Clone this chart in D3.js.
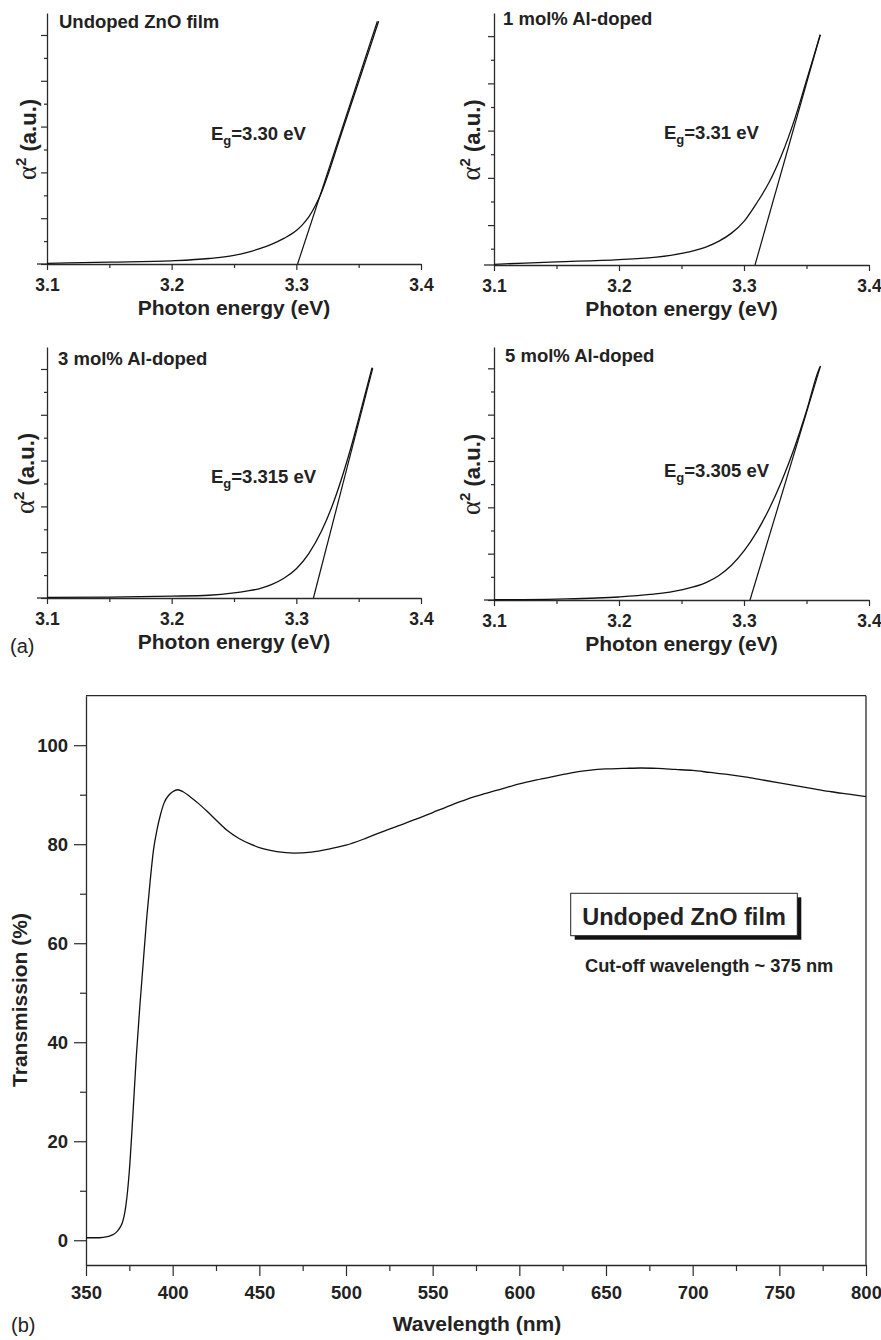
<!DOCTYPE html>
<html><head><meta charset="utf-8">
<script src="https://cdn.jsdelivr.net/npm/d3@7"></script>
<style>
body{margin:0;background:#fff;}
svg{display:block;}
text{font-family:"Liberation Sans",Arial,Helvetica,sans-serif;fill:#222;}
</style></head>
<body>
<svg id="c" width="881" height="1340"></svg>
<script>
// ---------- DATA ----------
// Panel (a): alpha^2 vs photon energy
const xTicksEnergy = [3.1, 3.2, 3.3, 3.4];
const xMinorEnergy = [3.15, 3.25, 3.35];

const undopedE = [3.10,3.15,3.20,3.23,3.25,3.26,3.27,3.28,3.29,3.30,3.305,3.31,3.315,3.32,3.325,3.33,3.335,3.34,3.35,3.36,3.366];
const undopedA = [0.015,0.04,0.07,0.12,0.19,0.25,0.33,0.43,0.56,0.73,0.86,1.03,1.26,1.55,1.92,2.33,2.75,3.16,3.98,4.80,5.30];
const undopedFitE = [3.301, 3.365];
const undopedFitA = [0, 5.30];

const al1E = [3.10,3.15,3.20,3.23,3.25,3.27,3.28,3.29,3.30,3.31,3.32,3.33,3.335,3.34,3.345,3.35,3.361];
const al1A = [0.17,0.22,0.27,0.32,0.40,0.54,0.66,0.83,1.08,1.46,1.90,2.48,2.82,3.20,3.62,4.06,5.03];
const al1FitE = [3.3088, 3.361];
const al1FitA = [0.155, 5.03];

const al3E = [3.10,3.15,3.20,3.23,3.25,3.26,3.27,3.28,3.29,3.30,3.31,3.32,3.33,3.34,3.345,3.35,3.36,3.3608];
const al3A = [0.015,0.02,0.04,0.06,0.11,0.15,0.20,0.29,0.43,0.64,0.97,1.45,2.10,2.93,3.40,3.91,4.95,5.03];
const al3FitE = [3.3137, 3.3613];
const al3FitA = [0, 5.02];

const al5E = [3.10,3.15,3.20,3.225,3.25,3.27,3.28,3.29,3.30,3.31,3.32,3.33,3.34,3.35,3.36,3.3612];
const al5A = [0.005,0.02,0.065,0.12,0.22,0.38,0.53,0.75,1.06,1.46,1.96,2.56,3.26,4.08,4.98,5.05];
const al5FitE = [3.3048, 3.361];
const al5FitA = [0, 5.03];

const panelTitles = ["Undoped ZnO film", "1 mol% Al-doped", "3 mol% Al-doped", "5 mol% Al-doped"];
const bandGaps = ["3.30", "3.31", "3.315", "3.305"];

// Panel (b): transmission spectrum
const wavelength = [350,355,360,363,366,368,370,371,372,373,374,375,377,379,381,383,385,387,389,391,393,395,398,400,403,406,410,415,420,425,431,438,445,452,460,470,480,490,500,510,520,530,540,550,560,570,580,590,600,610,620,630,640,650,660,670,680,690,700,710,720,730,740,750,760,770,780,790,800];
const transmission = [0.5,0.5,0.6,0.8,1.2,1.8,2.8,3.6,4.9,7,10,14,25,37,47,56,65,72.5,79,83,86,88.3,90,90.6,91,90.6,89.6,88.2,86.6,84.9,82.9,81.2,80,79.1,78.5,78.2,78.4,79,79.8,81,82.4,83.7,85,86.4,87.8,89.1,90.2,91.2,92.2,93,93.7,94.4,94.9,95.2,95.3,95.4,95.3,95.1,94.9,94.5,94.1,93.6,93,92.4,91.8,91.2,90.6,90.1,89.6];
const xTicksWl = [350,400,450,500,550,600,650,700,750,800];
const xMinorWl = [375,425,475,525,575,625,675,725,775];
const yTicksT = [0,20,40,60,80,100];
const yMinorT = [10,30,50,70,90];

// ---------- DRAWING ----------
const svg = d3.select("#c");
const AX = "#2a2a2a";

const panels = [
  {E: undopedE, A: undopedA, fE: undopedFitE, fA: undopedFitA, x0:47, x1:421, yTop:13, yBot:264, yMin:0, yMax:5.48, major:[0,1,2,3,4,5], minor:[0.5,1.5,2.5,3.5,4.5], tx:59, ty:28, ex:211, ey:140, lx:36},
  {E: al1E, A: al1A, fE: al1FitE, fA: al1FitA, x0:494, x1:869, yTop:13, yBot:265, yMin:0.155, yMax:5.49, major:[1,2,3,4,5], minor:[0.5,1.5,2.5,3.5,4.5], tx:503, ty:25, ex:664, ey:139, lx:480},
  {E: al3E, A: al3A, fE: al3FitE, fA: al3FitA, x0:47, x1:421, yTop:347, yBot:598, yMin:0, yMax:5.48, major:[0,1,2,3,4,5], minor:[0.5,1.5,2.5,3.5,4.5], tx:58, ty:365, ex:211, ey:483, lx:34},
  {E: al5E, A: al5A, fE: al5FitE, fA: al5FitA, x0:494, x1:869, yTop:347, yBot:600, yMin:0, yMax:5.46, major:[0,1,2,3,4,5], minor:[0.5,1.5,2.5,3.5,4.5], tx:505, ty:362, ex:664, ey:477, lx:480}
];

function styleAxis(g){
  g.selectAll("path.domain").attr("stroke", AX).attr("stroke-width", 1.3);
  g.selectAll(".tick line").attr("stroke", AX).attr("stroke-width", 1.2);
}

panels.forEach((p, i) => {
  const x = d3.scaleLinear().domain([3.1, 3.4]).range([p.x0, p.x1]);
  const y = d3.scaleLinear().domain([p.yMin, p.yMax]).range([p.yBot, p.yTop]);
  const g = svg.append("g");

  // x axis
  const gx = g.append("g").attr("transform", `translate(0,${p.yBot})`)
    .call(d3.axisBottom(x).tickValues(xTicksEnergy).tickSize(6).tickSizeOuter(0).tickFormat(d3.format(".1f")));
  gx.selectAll("text").attr("font-size", 17.5).attr("font-weight", "bold").attr("dy", "1.0em").attr("fill", "#222");
  styleAxis(gx);
  const gxm = g.append("g").attr("transform", `translate(0,${p.yBot})`)
    .call(d3.axisBottom(x).tickValues(xMinorEnergy).tickSize(4).tickFormat(""));
  gxm.select("path.domain").remove();
  styleAxis(gxm);
  g.append("line").attr("x1", p.x0 - 10).attr("x2", p.x0).attr("y1", p.yBot).attr("y2", p.yBot)
    .attr("stroke", AX).attr("stroke-width", 1.3);

  // y axis
  const gy = g.append("g").attr("transform", `translate(${p.x0},0)`)
    .call(d3.axisLeft(y).tickValues(p.major).tickSize(6).tickSizeOuter(0).tickFormat(""));
  styleAxis(gy);
  const gym = g.append("g").attr("transform", `translate(${p.x0},0)`)
    .call(d3.axisLeft(y).tickValues(p.minor).tickSize(3).tickFormat(""));
  gym.select("path.domain").remove();
  styleAxis(gym);

  // curve
  const pts = p.E.map((e, k) => [e, p.A[k]]);
  g.append("path").datum(pts)
    .attr("d", d3.line().x(d => x(d[0])).y(d => y(d[1])).curve(d3.curveMonotoneX))
    .attr("fill", "none").attr("stroke", "#111").attr("stroke-width", 1.3);
  // tangent fit
  const fpts = p.fE.map((e, k) => [e, p.fA[k]]);
  g.append("path").datum(fpts)
    .attr("d", d3.line().x(d => x(d[0])).y(d => y(d[1])))
    .attr("fill", "none").attr("stroke", "#111").attr("stroke-width", 1.2);

  // title
  g.append("text").attr("x", p.tx).attr("y", p.ty).attr("font-size", 18.5).attr("font-weight", "bold").text(panelTitles[i]);
  // Eg label
  const t = g.append("text").attr("x", p.ex).attr("y", p.ey).attr("font-size", 18.5).attr("font-weight", "bold");
  t.append("tspan").text("E");
  t.append("tspan").attr("font-size", 13).attr("dy", 5).text("g");
  t.append("tspan").attr("dy", -5).text("=" + bandGaps[i] + " eV");

  // x label
  g.append("text").attr("x", (p.x0 + p.x1) / 2).attr("y", p.yBot + 51).attr("text-anchor", "middle")
    .attr("font-size", 21).attr("font-weight", "bold").text("Photon energy (eV)");
  // y label
  const cy = (p.yTop + p.yBot) / 2 + 1;
  const yl = g.append("text").attr("transform", `translate(${p.lx},${cy}) rotate(-90)`).attr("text-anchor", "middle")
    .attr("font-size", 22).attr("font-weight", "bold");
  yl.append("tspan").attr("font-family", "'Liberation Serif','Times New Roman',serif").attr("font-weight", "normal").attr("font-size", 27).text("α");
  yl.append("tspan").attr("font-size", 15).attr("dy", -10).text("2");
  yl.append("tspan").attr("dy", 10).text(" (a.u.)");
});

svg.append("text").attr("x", 10).attr("y", 653).attr("font-family", "'Liberation Serif','Times New Roman',serif")
  .attr("font-size", 20).text("(a)");

// ---------- Panel (b) ----------
const bx = d3.scaleLinear().domain([350, 800]).range([86, 866]);
const by = d3.scaleLinear().domain([-5, 110]).range([1265, 695.7]);
const gb = svg.append("g");

gb.append("line").attr("x1", 86).attr("x2", 866).attr("y1", by(110)).attr("y2", by(110)).attr("stroke", AX).attr("stroke-width", 1.3);
gb.append("line").attr("x1", 866).attr("x2", 866).attr("y1", by(110)).attr("y2", by(-5)).attr("stroke", AX).attr("stroke-width", 1.3);

const gbx = gb.append("g").attr("transform", `translate(0,${by(-5)})`)
  .call(d3.axisBottom(bx).tickValues(xTicksWl).tickSize(11).tickSizeOuter(0).tickFormat(d3.format("d")));
gbx.selectAll("text").attr("font-size", 18.5).attr("font-weight", "bold").attr("dy", "1.1em").attr("fill", "#222");
styleAxis(gbx);
const gbxm = gb.append("g").attr("transform", `translate(0,${by(-5)})`)
  .call(d3.axisBottom(bx).tickValues(xMinorWl).tickSize(6).tickFormat(""));
gbxm.select("path.domain").remove(); styleAxis(gbxm);

const gby = gb.append("g").attr("transform", `translate(86,0)`)
  .call(d3.axisLeft(by).tickValues(yTicksT).tickSize(12).tickSizeOuter(0).tickFormat(d3.format("d")));
gby.selectAll("text").attr("font-size", 18.5).attr("font-weight", "bold").attr("x", -18).attr("fill", "#222");
styleAxis(gby);
const gbym = gb.append("g").attr("transform", `translate(86,0)`)
  .call(d3.axisLeft(by).tickValues(yMinorT).tickSize(6).tickFormat(""));
gbym.select("path.domain").remove(); styleAxis(gbym);

const tpts = wavelength.map((w, k) => [w, transmission[k]]);
gb.append("path").datum(tpts)
  .attr("d", d3.line().x(d => bx(d[0])).y(d => by(d[1])).curve(d3.curveMonotoneX))
  .attr("fill", "none").attr("stroke", "#111").attr("stroke-width", 1.3);

gb.append("text").attr("x", 477).attr("y", 1331).attr("text-anchor", "middle").attr("font-size", 21).attr("font-weight", "bold").text("Wavelength (nm)");
gb.append("text").attr("transform", "translate(27,1000) rotate(-90)").attr("text-anchor", "middle").attr("font-size", 21).attr("font-weight", "bold").text("Transmission (%)");

// legend box with shadow
gb.append("rect").attr("x", 574.7).attr("y", 897.3).attr("width", 226.6).attr("height", 42.4).attr("fill", "#111");
gb.append("rect").attr("x", 570.7).attr("y", 893.3).attr("width", 226.6).attr("height", 42.4).attr("fill", "#fff").attr("stroke", "#222").attr("stroke-width", 1);
gb.append("text").attr("x", 684).attr("y", 925).attr("text-anchor", "middle").attr("font-size", 23.5).attr("font-weight", "bold").text("Undoped ZnO film");
gb.append("text").attr("x", 585).attr("y", 972).attr("font-size", 18.3).attr("font-weight", "bold").text("Cut-off wavelength ~ 375 nm");

svg.append("text").attr("x", 11).attr("y", 1332).attr("font-family", "'Liberation Serif','Times New Roman',serif")
  .attr("font-size", 20).text("(b)");
</script>
</body></html>
